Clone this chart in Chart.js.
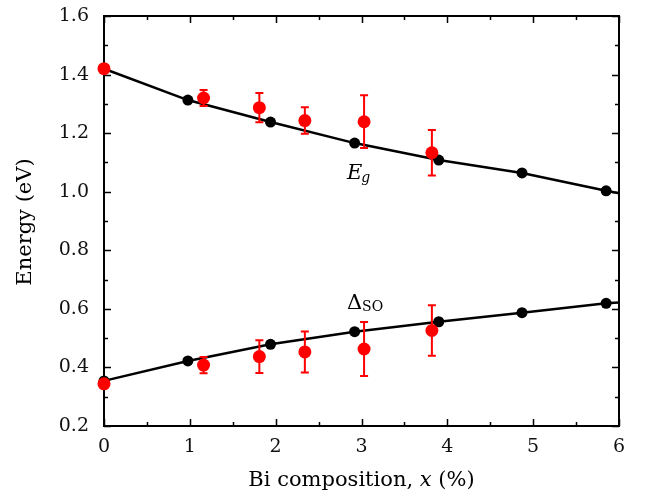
<!DOCTYPE html>
<html>
<head>
<meta charset="utf-8">
<title>Energy vs Bi composition</title>
<script src="https://cdn.jsdelivr.net/npm/chart.js@4.4.1/dist/chart.umd.min.js"></script>
<style>
  html, body { margin: 0; padding: 0; background: #fff; }
  #chart { display: block; }
</style>
</head>
<body>
<canvas id="chart" width="654" height="499"></canvas>
<script>
// Curva teórica (linha preta) - o último ponto só prolonga a linha até x = 6
const lineX = [0, 0.977, 1.94, 2.92, 3.9, 4.87, 5.85, 6];
const egLine = [1.42, 1.313, 1.238, 1.166, 1.108, 1.064, 1.003, 0.995];
const soLine = [0.354, 0.422, 0.479, 0.522, 0.556, 0.587, 0.619, 0.622];

// Pontos experimentais (vermelho) com barras de erro
const expX = [0, 1.16, 1.81, 2.34, 3.03, 3.82];
const egExp = [1.42, 1.32, 1.287, 1.243, 1.239, 1.133];
const egErr = [0, 0.027, 0.05, 0.045, 0.09, 0.078];
const soExp = [0.344, 0.408, 0.437, 0.453, 0.463, 0.526];
const soErr = [0, 0.028, 0.056, 0.07, 0.092, 0.086];

// Eixos
const xTicks = [0, 1, 2, 3, 4, 5, 6];
const yTicks = [0.2, 0.4, 0.6, 0.8, 1.0, 1.2, 1.4, 1.6];

const FONT = '"DejaVu Serif", "Liberation Serif", serif';

function toPoints(xs, ys, errs) {
  return xs.map((x, i) => ({ x: x, y: ys[i], err: errs ? errs[i] : 0 }));
}

// Pontos pretos só onde há marcador (não no prolongamento final)
function markerRadius(ctx) {
  return ctx.dataIndex === lineX.length - 1 ? 0 : 5.5;
}

// Barras de erro, quadro, ticks internos e textos
const decorPlugin = {
  id: 'decor',
  beforeDatasetsDraw(chart) {
    const { ctx, chartArea: a, scales } = chart;
    const xs = scales.x, ys = scales.y;
    ctx.save();
    ctx.strokeStyle = '#000';
    ctx.lineWidth = 1.5;
    ctx.beginPath();
    // ticks do eixo x (maiores nos inteiros, menores em 0.5)
    for (let i = 0; i <= 12; i++) {
      const px = Math.round(xs.getPixelForValue(i / 2)) + 0.5;
      const len = i % 2 === 0 ? 7 : 4;
      ctx.moveTo(px, a.bottom); ctx.lineTo(px, a.bottom - len);
      ctx.moveTo(px, a.top); ctx.lineTo(px, a.top + len);
    }
    // ticks do eixo y (maiores a cada 0.2, menores a cada 0.1)
    for (let i = 2; i <= 16; i++) {
      const py = Math.round(ys.getPixelForValue(i / 10)) + 0.5;
      const len = i % 2 === 0 ? 7 : 4;
      ctx.moveTo(a.left, py); ctx.lineTo(a.left + len, py);
      ctx.moveTo(a.right, py); ctx.lineTo(a.right - len, py);
    }
    ctx.stroke();
    ctx.lineWidth = 2;
    ctx.strokeRect(a.left, a.top, a.right - a.left, a.bottom - a.top);
    ctx.restore();
  },
  afterDatasetsDraw(chart) {
    const { ctx, scales } = chart;
    const xs = scales.x, ys = scales.y;
    ctx.save();
    ctx.strokeStyle = '#ff0000';
    ctx.lineWidth = 2;
    [egExp, soExp].forEach((vals, k) => {
      const errs = k === 0 ? egErr : soErr;
      vals.forEach((v, i) => {
        if (!errs[i]) return;
        const px = xs.getPixelForValue(expX[i]);
        const top = ys.getPixelForValue(v + errs[i]);
        const bot = ys.getPixelForValue(v - errs[i]);
        ctx.beginPath();
        ctx.moveTo(px, top); ctx.lineTo(px, bot);
        ctx.moveTo(px - 4, top); ctx.lineTo(px + 4, top);
        ctx.moveTo(px - 4, bot); ctx.lineTo(px + 4, bot);
        ctx.stroke();
      });
    });
    ctx.restore();
  },
  afterDraw(chart) {
    const { ctx, chartArea: a, scales } = chart;
    const xs = scales.x, ys = scales.y;
    ctx.save();
    ctx.fillStyle = '#000';
    ctx.textBaseline = 'alphabetic';

    // Rótulo E_g
    let px = xs.getPixelForValue(2.83);
    let py = ys.getPixelForValue(1.044);
    ctx.font = 'italic 21px ' + FONT;
    ctx.textAlign = 'left';
    ctx.fillText('E', px, py);
    const ew = ctx.measureText('E').width;
    ctx.font = 'italic 14px ' + FONT;
    ctx.fillText('g', px + ew - 1, py + 3);

    // Rótulo Δ_SO
    px = xs.getPixelForValue(2.83);
    py = ys.getPixelForValue(0.6);
    ctx.font = '21px ' + FONT;
    ctx.fillText('\u0394', px, py);
    const dw = ctx.measureText('\u0394').width;
    ctx.font = '14px ' + FONT;
    ctx.fillText('SO', px + dw, py + 2);

    // Título do eixo x, com x em itálico
    const parts = [
      ['Bi composition, ', '21px ' + FONT],
      ['x', 'italic 21px ' + FONT],
      [' (%)', '21px ' + FONT]
    ];
    let total = 0;
    parts.forEach(p => { ctx.font = p[1]; total += ctx.measureText(p[0]).width; });
    let cx = (a.left + a.right) / 2 - total / 2;
    parts.forEach(p => {
      ctx.font = p[1];
      ctx.fillText(p[0], cx, 486);
      cx += ctx.measureText(p[0]).width;
    });

    // Título do eixo y
    ctx.translate(31, 222);
    ctx.rotate(-Math.PI / 2);
    ctx.font = '21px ' + FONT;
    ctx.textAlign = 'center';
    ctx.fillText('Energy (eV)', 0, 0);
    ctx.restore();
  }
};

const ctx = document.getElementById('chart').getContext('2d');

const energyChart = new Chart(ctx, {
  type: 'scatter',
  data: {
    datasets: [
      {
        label: 'Eg teoria',
        data: toPoints(lineX, egLine),
        showLine: true,
        borderColor: '#000',
        borderWidth: 2.5,
        backgroundColor: '#000',
        pointRadius: markerRadius,
        pointBorderWidth: 0,
        clip: false,
        order: 2
      },
      {
        label: 'ΔSO teoria',
        data: toPoints(lineX, soLine),
        showLine: true,
        borderColor: '#000',
        borderWidth: 2.5,
        backgroundColor: '#000',
        pointRadius: markerRadius,
        pointBorderWidth: 0,
        clip: false,
        order: 2
      },
      {
        label: 'Eg exp',
        data: toPoints(expX, egExp, egErr),
        backgroundColor: '#ff0000',
        pointRadius: 6.5,
        pointBorderWidth: 0,
        clip: false,
        order: 1
      },
      {
        label: 'ΔSO exp',
        data: toPoints(expX, soExp, soErr),
        backgroundColor: '#ff0000',
        pointRadius: 6.5,
        pointBorderWidth: 0,
        clip: false,
        order: 1
      }
    ]
  },
  options: {
    responsive: false,
    animation: false,
    devicePixelRatio: 1,
    layout: { padding: { left: 0, right: 35, top: 16, bottom: 0 } },
    plugins: {
      legend: { display: false },
      tooltip: { enabled: false }
    },
    scales: {
      x: {
        type: 'linear',
        min: 0,
        max: 6,
        afterFit(scale) {
          scale.height = 73;
          scale.paddingLeft = 0;
          scale.paddingRight = 0;
        },
        afterBuildTicks(scale) { scale.ticks = xTicks.map(v => ({ value: v })); },
        grid: { display: false, drawTicks: false },
        border: { display: false },
        ticks: {
          padding: 10,
          color: '#111',
          font: { family: FONT, size: 19 },
          callback: v => String(v)
        }
      },
      y: {
        type: 'linear',
        min: 0.2,
        max: 1.6,
        afterFit(scale) {
          scale.width = 104;
          scale.paddingTop = 0;
          scale.paddingBottom = 0;
        },
        afterBuildTicks(scale) { scale.ticks = yTicks.map(v => ({ value: v })); },
        grid: { display: false, drawTicks: false },
        border: { display: false },
        ticks: {
          padding: 15,
          color: '#111',
          font: { family: FONT, size: 19 },
          callback: v => v.toFixed(1)
        }
      }
    }
  },
  plugins: [decorPlugin]
});
</script>
</body>
</html>
